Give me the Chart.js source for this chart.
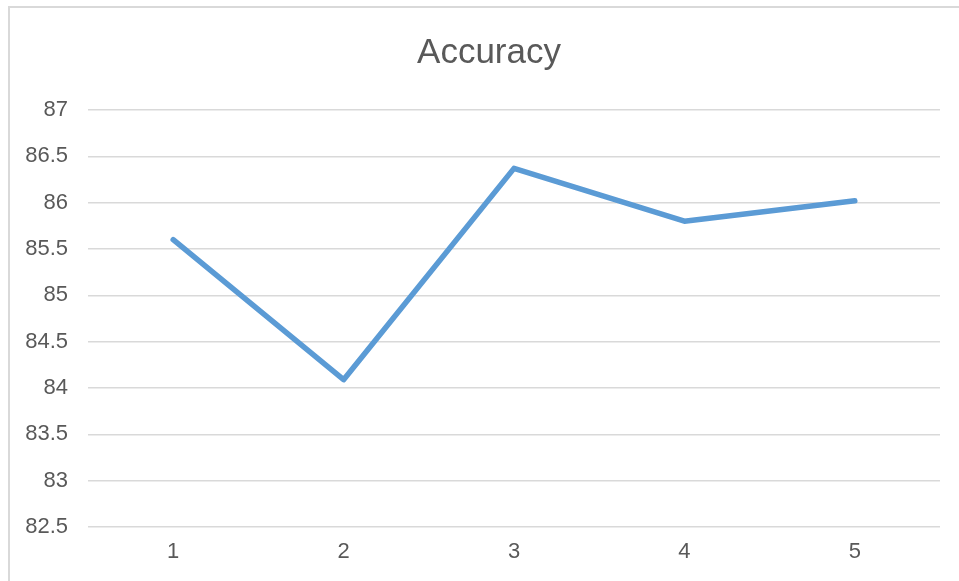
<!DOCTYPE html>
<html>
<head>
<meta charset="utf-8">
<script src="https://cdn.jsdelivr.net/npm/chart.js@4/dist/chart.umd.min.js"></script>
<style>
  html, body { margin: 0; padding: 0; background: #fff; overflow: hidden; }
  #frame {
    position: absolute; left: 8px; top: 6px; width: 1000px; height: 1000px;
    border: 2px solid #d9d9d9; box-sizing: border-box;
  }
  #wrap { position: absolute; left: 0; top: 0; width: 959px; height: 581px; }
</style>
</head>
<body>
<div id="frame"></div>
<div id="wrap"><canvas id="chart" width="959" height="581"></canvas></div>
<script>
// Accuracy per run
const chartTitle = 'Accuracy';
const runs = ['1', '2', '3', '4', '5'];
const accuracy = [85.6, 84.09, 86.37, 85.8, 86.02];
const yMin = 82.5;
const yMax = 87;
const yStep = 0.5;

const textColor = '#595959';
const gridColor = '#d9d9d9';
const fontFamily = '"Liberation Sans", Arial, sans-serif';

// Title centred on the framed chart box rather than on the canvas
const frameTitle = {
  id: 'frameTitle',
  afterDraw(chart, args, opts) {
    const ctx = chart.ctx;
    ctx.save();
    ctx.font = `normal ${opts.size}px ${fontFamily}`;
    ctx.fillStyle = textColor;
    ctx.textAlign = 'center';
    ctx.textBaseline = 'middle';
    ctx.fillText(opts.text, opts.x, opts.y);
    ctx.restore();
  }
};

new Chart(document.getElementById('chart'), {
  type: 'line',
  data: {
    labels: runs,
    datasets: [{
      label: chartTitle,
      data: accuracy,
      borderColor: '#5b9bd5',
      backgroundColor: '#5b9bd5',
      borderWidth: 5.5,
      borderCapStyle: 'round',
      borderJoinStyle: 'round',
      pointRadius: 0,
      pointHoverRadius: 0,
      tension: 0,
      fill: false
    }]
  },
  plugins: [frameTitle],
  options: {
    responsive: false,
    animation: false,
    layout: { padding: { left: 0, right: 19, top: 110, bottom: 0 } },
    plugins: {
      legend: { display: false },
      tooltip: { enabled: false },
      title: { display: false },
      frameTitle: { text: chartTitle, size: 35, x: 489, y: 53 }
    },
    scales: {
      x: {
        offset: true,
        grid: { display: false, drawTicks: false },
        border: { display: false },
        ticks: { color: textColor, font: { family: fontFamily, size: 22 }, padding: 12 },
        afterFit(scale) { scale.height = 54; }
      },
      y: {
        min: yMin,
        max: yMax,
        grid: { color: gridColor, lineWidth: 1.5, drawTicks: false },
        border: { display: false },
        ticks: {
          stepSize: yStep,
          color: textColor,
          font: { family: fontFamily, size: 22 },
          padding: 20,
          callback: (value) => String(Number(value.toFixed(1)))
        },
        afterFit(scale) { scale.width = 88; }
      }
    }
  }
});
</script>
</body>
</html>
